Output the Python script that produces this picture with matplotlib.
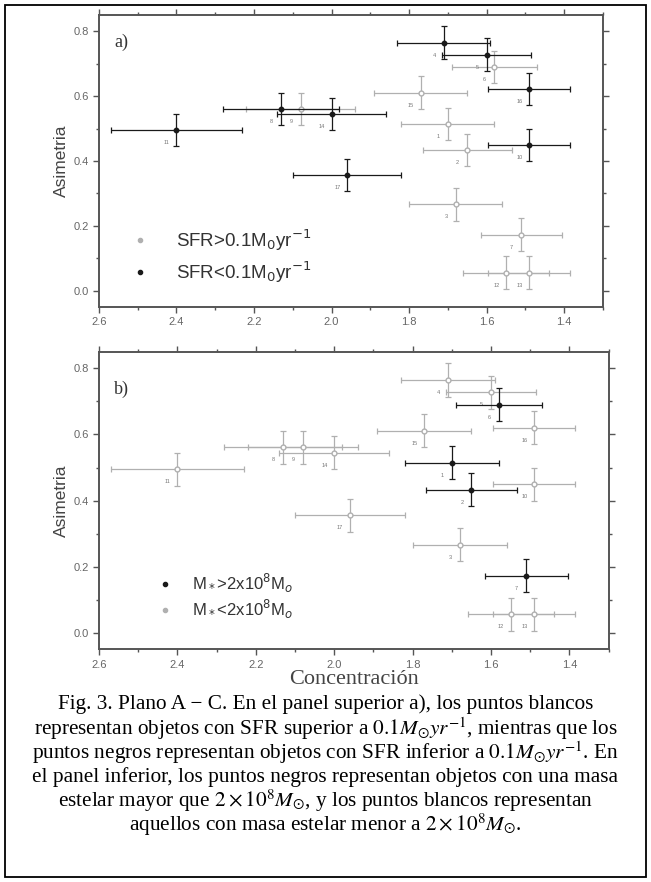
import matplotlib
matplotlib.use("Agg")
import matplotlib.pyplot as plt
from matplotlib.lines import Line2D
from matplotlib.patches import Rectangle
from matplotlib.ticker import MultipleLocator

# galaxy data
ids = ["11", "4", "5", "6", "16", "15", "8", "9", "14", "1", "10", "2", "17", "3", "7", "12", "13"]
conc = [2.40, 1.71, 1.60, 1.58, 1.49, 1.77, 2.13, 2.08, 2.00, 1.70, 1.49, 1.65, 1.96, 1.68, 1.51, 1.55, 1.49]
conc_err = [0.17, 0.12, 0.115, 0.11, 0.105, 0.12, 0.15, 0.14, 0.14, 0.12, 0.105, 0.115, 0.14, 0.12, 0.105, 0.11, 0.105]
asym = [0.495, 0.765, 0.728, 0.69, 0.621, 0.611, 0.561, 0.561, 0.544, 0.514, 0.449, 0.433, 0.356, 0.266, 0.173, 0.056, 0.056]
asym_err = [0.05] * 17
# panel a: black = SFR < 0.1 ; panel b: black = M* > 2e8
sfr_low = [1, 1, 1, 0, 1, 0, 1, 0, 1, 0, 1, 0, 1, 0, 0, 0, 0]
massive = [0, 0, 0, 1, 0, 0, 0, 0, 0, 1, 0, 1, 0, 0, 1, 0, 0]

plt.rcParams["font.family"] = ["Liberation Sans", "DejaVu Sans"]
plt.rcParams["mathtext.fontset"] = "stix"

fig = plt.figure(figsize=(6.51, 8.82), dpi=100)
fig.patches.append(Rectangle((5 / 651, 5 / 882), 641 / 651, 872 / 882, transform=fig.transFigure,
                             fill=False, edgecolor="black", linewidth=1.3))

ax_a = fig.add_axes([0.152, 0.652, 0.774, 0.331])
ax_b = fig.add_axes([0.152, 0.264, 0.783, 0.337])

DARK = "#1a1a1a"
LIGHT = "#b0b0b0"


def draw_panel(ax, flags):
    for dark in (0, 1):
        idx = [i for i in range(len(conc)) if flags[i] == dark]
        col = DARK if dark else LIGHT
        ax.errorbar([conc[i] for i in idx], [asym[i] for i in idx],
                    xerr=[conc_err[i] for i in idx], yerr=[asym_err[i] for i in idx],
                    fmt="o", ms=3.2 if dark else 3.5, color=col, ecolor=col,
                    mfc=col if dark else "white", mec=col, elinewidth=0.9,
                    capsize=2, capthick=0.9, zorder=3 + dark)
    for i in range(len(conc)):
        ax.annotate(ids[i], (conc[i], asym[i]), xytext=(-7, -9), textcoords="offset points",
                    fontsize=4, color="#777777", ha="center", va="center")
    ax.set_xlim(2.6, 1.3)
    ax.set_ylim(-0.05, 0.85)
    ax.xaxis.set_major_locator(MultipleLocator(0.2))
    ax.xaxis.set_minor_locator(MultipleLocator(0.1))
    ax.yaxis.set_major_locator(MultipleLocator(0.2))
    ax.yaxis.set_minor_locator(MultipleLocator(0.1))
    ax.xaxis.set_major_formatter(lambda v, p: f"{v:.1f}")
    ax.yaxis.set_major_formatter(lambda v, p: f"{v:.1f}")
    ax.tick_params(which="both", top=True, right=True, color="#555555",
                   labelcolor="#666666", labelsize=8, width=1)
    ax.tick_params(which="major", length=4)
    ax.tick_params(which="minor", length=2.5)
    for s in ax.spines.values():
        s.set_color("#555555")
        s.set_linewidth(1.4)
    ax.set_ylabel("Asimetria", fontsize=12.5, color="#444444", labelpad=3)


draw_panel(ax_a, sfr_low)
draw_panel(ax_b, massive)

ax_a.text(0.03, 0.89, "a)", transform=ax_a.transAxes, family="Liberation Serif", fontsize=13, color="#333333")
ax_b.text(0.03, 0.86, "b)", transform=ax_b.transAxes, family="Liberation Serif", fontsize=13, color="#333333")

h_light = Line2D([], [], ls="none", marker="o", ms=3, color=LIGHT)
h_dark = Line2D([], [], ls="none", marker="o", ms=3, color=DARK)
leg_a = ax_a.legend([h_light, h_dark],
                    ["SFR>0.1M$_0$yr$^{-1}$", "SFR<0.1M$_0$yr$^{-1}$"],
                    loc="center left", bbox_to_anchor=(0.063, 0.175), frameon=False,
                    fontsize=13.5, handlelength=1, handletextpad=1.4, labelspacing=0.35,
                    borderpad=0, borderaxespad=0)
for t in leg_a.get_texts():
    t.set_color("#333333")
    t.set_math_fontfamily("dejavusans")
leg_b = ax_b.legend([h_dark, h_light],
                    ["M$_*$>2x10$^8$M$_{o}$", "M$_*$<2x10$^8$M$_{o}$"],
                    loc="center left", bbox_to_anchor=(0.114, 0.178), frameon=False,
                    fontsize=12, handlelength=1, handletextpad=1.1, labelspacing=0.15,
                    borderpad=0, borderaxespad=0)
for t in leg_b.get_texts():
    t.set_color("#333333")
    t.set_math_fontfamily("dejavusans")

ax_b.set_xlabel("Concentración", family="Liberation Serif", fontsize=16, color="#444444", labelpad=0)

caption = [
    "Fig. 3. Plano A − C. En el panel superior a), los puntos blancos",
    r"representan objetos con SFR superior a $0.1M_{\odot}yr^{-1}$, mientras que los",
    r"puntos negros representan objetos con SFR inferior a $0.1M_{\odot}yr^{-1}$. En",
    "el panel inferior, los puntos negros representan objetos con una masa",
    r"estelar mayor que $2\times10^{8}M_{\odot}$, y los puntos blancos representan",
    r"aquellos con masa estelar menor a $2\times10^{8}M_{\odot}$.",
]
for k, line in enumerate(caption):
    fig.text(0.5, 1 - (704 + k * 24.2) / 882, line, ha="center", va="center",
             family="Liberation Serif", fontsize=15.3, color="black")

fig.savefig("out.png", dpi=100)
